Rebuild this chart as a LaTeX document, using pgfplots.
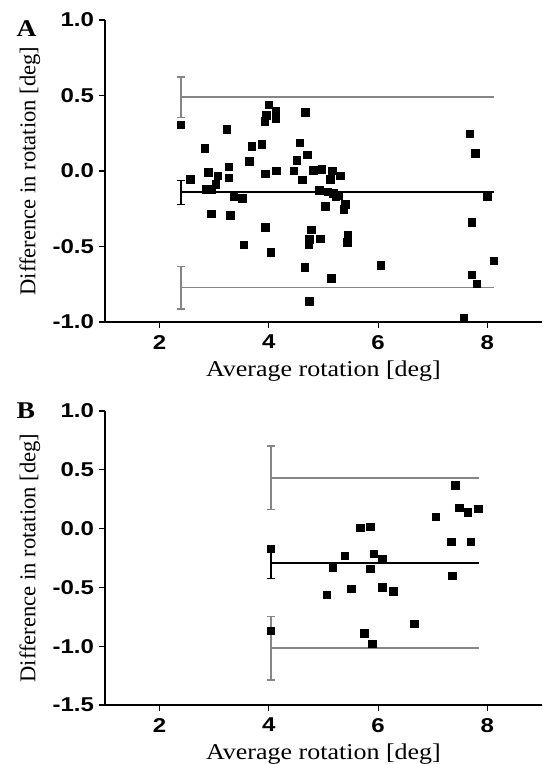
\documentclass[border=0pt]{standalone}
\usepackage{fontspec}
\setmainfont{Liberation Serif}
\newfontfamily\wideserif{Liberation Serif}[FakeStretch=1.15]
\newfontfamily\ticksans{Liberation Sans}[FakeStretch=1.2]
\usepackage{pgfplots}
\pgfplotsset{compat=1.18}
\definecolor{loa}{gray}{0.52}

\pgfplotsset{
  ba/.style={
    scale only axis, width=218.5pt, xmin=1, xmax=9,
    axis x line=bottom, axis y line=left,
    axis line style={-, line width=0.7pt},
    tick align=outside, major tick length=3pt,
    tick style={line width=0.6pt, black},
    xtick={2,4,6,8}, xticklabels={2,4,6,8},
    ticklabel style={font=\ticksans\bfseries\fontsize{10}{12}\selectfont},
    yticklabel style={xshift=1pt},
    xlabel={Average rotation [deg]},
    ylabel={Difference in rotation [deg]},
    xlabel style={font=\wideserif\fontsize{11.3}{13}\selectfont,
      at={(axis description cs:0.5,0)}, anchor=center, yshift=-24.5pt},
    ylabel style={font=\fontsize{11.3}{13}\selectfont,
      at={(axis description cs:-0.172,0.5)}, anchor=center},
    clip=false,
  },
  pts/.style={only marks, mark=square*, mark size=1.9pt,
    mark options={fill=black, draw=none}},
  ebar/.style={mark=none, forget plot, #1, line width=0.75pt,
    error bars/.cd, y dir=both, y explicit,
    error bar style={line width=0.75pt, #1},
    error mark options={rotate=90, line width=0.75pt, #1, mark size=2pt}},
}

\begin{document}
\begin{tikzpicture}
\path[use as bounding box] (-52.5pt,-29.5pt) rectangle (218.5pt,352.5pt);

% panel A
\begin{axis}[ba, at={(0,191.5pt)}, height=151pt, ymin=-1, ymax=1,
  ytick={-1,-0.5,0,0.5,1}, yticklabels={-1.0,-0.5,0.0,0.5,1.0}]
\addplot[loa, line width=0.75pt] coordinates {(2.39,0.489) (8.12,0.489)};
\addplot[loa, line width=0.75pt] coordinates {(2.39,-0.773) (8.12,-0.773)};
\addplot[black, line width=1pt] coordinates {(2.39,-0.142) (8.12,-0.142)};
\addplot[ebar=loa] coordinates {(2.39,0.489) +- (0,0.135)};
\addplot[ebar=loa] coordinates {(2.39,-0.773) +- (0,0.14)};
\addplot[ebar=black] coordinates {(2.39,-0.142) +- (0,0.08)};
\addplot[pts] coordinates {
(2.39,0.305) (2.56,-0.055) (2.83,0.149) (2.89,-0.011) (2.86,-0.122)
(2.95,-0.122) (3.03,-0.089) (3.07,-0.033) (2.95,-0.285) (3.23,0.275)
(3.27,0.027) (3.27,-0.045) (3.30,-0.293) (3.36,-0.167) (3.52,-0.182)
(3.54,-0.489) (3.64,0.062) (3.69,0.162) (3.87,0.178) (3.94,-0.018)
(3.94,-0.373) (4.00,0.438) (3.96,0.367) (3.93,0.329) (4.13,0.395)
(4.13,0.344) (4.14,0.0) (4.04,-0.54) (4.67,0.389) (4.57,0.187)
(4.70,0.107) (4.51,0.071) (4.46,0.0) (4.61,-0.06) (4.81,0.005)
(4.97,0.011) (5.16,0.0) (5.13,-0.055) (5.31,-0.033) (4.92,-0.129)
(5.08,-0.138) (5.23,-0.167) (5.18,-0.15) (5.27,-0.16) (5.04,-0.233)
(5.40,-0.222) (5.37,-0.255) (4.78,-0.389) (4.74,-0.455) (4.73,-0.485)
(4.94,-0.449) (4.66,-0.638) (5.14,-0.711) (4.74,-0.862) (5.45,-0.427)
(5.44,-0.473) (6.05,-0.627) (7.68,0.245) (7.78,0.118) (8.0,-0.167)
(7.72,-0.34) (8.12,-0.595) (7.72,-0.689) (7.81,-0.749) (7.57,-0.978)
};
\node[anchor=north west, inner sep=0pt, font=\wideserif\bfseries\fontsize{12}{14}\selectfont]
  at (rel axis cs:-0.203,1.0) {A};
\end{axis}

% panel B
\begin{axis}[ba, at={(0,0)}, height=147pt, ymin=-1.5, ymax=1,
  ytick={-1.5,-1,-0.5,0,0.5,1}, yticklabels={-1.5,-1.0,-0.5,0.0,0.5,1.0}]
\addplot[loa, line width=0.75pt] coordinates {(4.04,0.431) (7.85,0.431)};
\addplot[loa, line width=0.75pt] coordinates {(4.04,-1.017) (7.85,-1.017)};
\addplot[black, line width=1pt] coordinates {(4.04,-0.293) (7.85,-0.293)};
\addplot[ebar=loa] coordinates {(4.04,0.431) +- (0,0.27)};
\addplot[ebar=loa] coordinates {(4.04,-1.017) +- (0,0.27)};
\addplot[ebar=black] coordinates {(4.04,-0.293) +- (0,0.13)};
\addplot[pts] coordinates {
(4.04,-0.174) (4.04,-0.870) (5.68,0.007) (5.86,0.015) (5.39,-0.233)
(5.17,-0.333) (5.92,-0.216) (6.08,-0.259) (5.86,-0.344) (5.51,-0.514)
(5.06,-0.565) (6.08,-0.50) (6.28,-0.536) (5.75,-0.890) (5.89,-0.980)
(6.66,-0.811) (7.41,0.369) (7.49,0.177) (7.64,0.140) (7.84,0.168)
(7.06,0.098) (7.34,-0.112) (7.70,-0.112) (7.36,-0.403)
};
\node[anchor=north west, inner sep=0pt, font=\wideserif\bfseries\fontsize{12}{14}\selectfont]
  at (rel axis cs:-0.203,1.03) {B};
\end{axis}
\end{tikzpicture}
\end{document}
